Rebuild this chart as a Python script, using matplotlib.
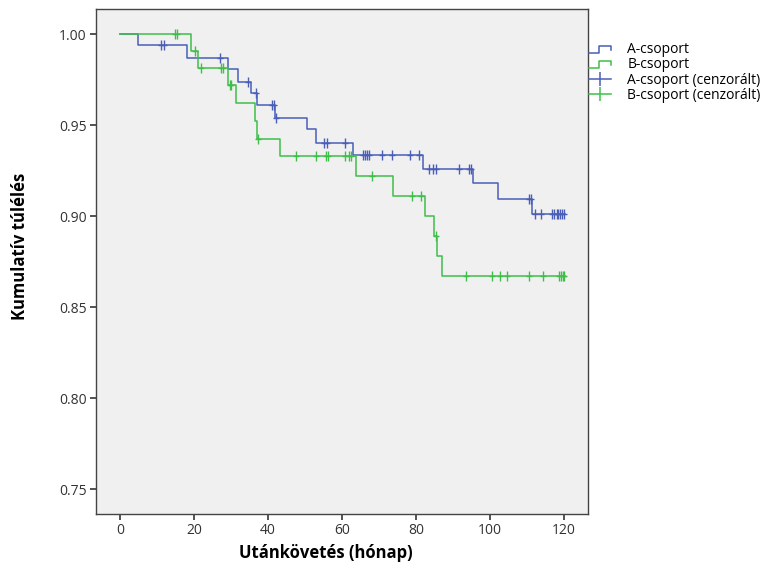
import numpy as np
import matplotlib
matplotlib.use("Agg")
import matplotlib.pyplot as plt
from matplotlib.lines import Line2D
from matplotlib.legend_handler import HandlerBase

plt.rcParams['font.family'] = ['Open Sans', 'DejaVu Sans']

# ─── Data ───────────────────────────────────────────────────────────────────────
# step curves: time of each drop and the survival level after it
a_times = [0, 4.9, 18.0, 29.2, 31.9, 35.5, 37.0, 41.8, 50.5, 53.0, 62.9, 82.0, 95.3, 102.2, 111.3]
a_surv = [1.0, 0.9939, 0.9872, 0.9807, 0.9740, 0.9675, 0.9610, 0.9540, 0.9477, 0.9403, 0.9334,
          0.9257, 0.9180, 0.9097, 0.9014]
a_end = 120.4
a_cens = [11.1, 11.9, 27.0, 34.6, 36.7, 41.1, 41.6, 42.1, 55.1, 56.0, 60.9,
          65.6, 66.3, 66.8, 67.2, 70.7, 73.5, 78.4, 80.7, 83.4, 84.5, 85.4, 91.7, 94.2, 94.8,
          110.6, 111.0, 112.2, 113.7, 116.7, 117.3, 118.0, 118.5, 118.9, 119.5, 120.0]

b_times = [0, 19.3, 21.0, 29.2, 31.4, 36.4, 37.1, 43.3, 63.8, 73.7, 82.5, 84.9, 85.6, 87.0]
b_surv = [1.0, 0.9908, 0.9817, 0.9721, 0.9620, 0.9523, 0.9427, 0.9330, 0.9220, 0.9110,
          0.9000, 0.8890, 0.8780, 0.8670]
b_end = 120.3
b_cens = [14.8, 15.5, 20.4, 21.9, 27.2, 27.9, 29.7, 30.0, 37.3, 47.6, 53.0, 55.8, 56.2,
          60.9, 62.0, 62.5, 68.0, 78.9, 81.3, 85.4, 93.5, 100.5, 102.6, 104.7, 110.6,
          114.3, 118.7, 119.2, 119.6, 120.0]

labels = ['A-csoport', 'B-csoport', 'A-csoport (cenzorált)', 'B-csoport (cenzorált)']
col_a = '#4a5eb8'
col_b = '#3fbf4a'


def surv_at(times, surv, t):
    idx = np.searchsorted(times, t, side='right') - 1
    return np.asarray(surv)[idx]


class StepHandler(HandlerBase):
    """legend handle drawn as a small step, like SPSS does"""
    def create_artists(self, legend, orig, xd, yd, w, h, fontsize, trans):
        xs = [xd, xd + 0.45 * w, xd + 0.45 * w, xd + w, xd + w]
        ys = [yd + 0.05 * h, yd + 0.05 * h, yd + 0.7 * h, yd + 0.7 * h, yd + 0.35 * h]
        ln = Line2D(xs, ys, color=orig.get_color(), lw=orig.get_linewidth(), transform=trans)
        return [ln]


# ─── Figure ──────────────────────────────────────────────────────────────────────
fig = plt.figure(figsize=(7.63, 5.71), dpi=100)
ax = fig.add_axes([95.5 / 763, 1 - 514 / 571, (587.7 - 95.5) / 763, (514 - 9.3) / 571])
ax.set_facecolor('#f0f0f0')

for times, surv, end, cens, col in [(a_times, a_surv, a_end, a_cens, col_a),
                                    (b_times, b_surv, b_end, b_cens, col_b)]:
    ax.step(list(times) + [end], list(surv) + [surv[-1]], where='post', color=col, lw=1.1)
    ax.plot(cens, surv_at(times, surv, cens), ls='none', marker='|', ms=7, mew=1.0, color=col)
    ax.plot(cens, surv_at(times, surv, cens), ls='none', marker='_', ms=5, mew=1.0, color=col)

ax.set_xlim(-6.6, 126.4)
ax.set_ylim(0.7364, 1.0137)
ax.set_xticks(np.arange(0, 121, 20))
ax.set_yticks(np.arange(0.75, 1.001, 0.05))
ax.set_yticklabels([f'{v:.2f}' for v in np.arange(0.75, 1.001, 0.05)])
ax.tick_params(direction='out', length=4.5, width=1.3, color='#444444',
               labelsize=10, labelcolor='#333333', pad=2)
for sp in ax.spines.values():
    sp.set_color('#444444')
    sp.set_linewidth(1.0)

fig.text(326 / 763, 1 - 553 / 571, 'Utánkövetés (hónap)', ha='center', va='center',
         fontsize=12, fontweight='bold')
fig.text(20 / 763, 1 - 246 / 571, 'Kumulatív túlélés', ha='center', va='center',
         rotation=90, fontsize=12, fontweight='bold')

h_a = Line2D([], [], color=col_a, lw=1.1)
h_b = Line2D([], [], color=col_b, lw=1.1)
h_ac = Line2D([], [], color=col_a, lw=1.1, marker='|', ms=10, mew=1.1)
h_bc = Line2D([], [], color=col_b, lw=1.1, marker='|', ms=10, mew=1.1)
fig.legend([h_a, h_b, h_ac, h_bc], labels, loc='upper left',
           bbox_to_anchor=(589 / 763, 1 - 42 / 571), frameon=False, fontsize=10,
           handlelength=1.6, handletextpad=1.15, labelspacing=0.02, borderpad=0,
           borderaxespad=0,
           handler_map={h_a: StepHandler(), h_b: StepHandler()})

fig.savefig('out.png', dpi=100)
